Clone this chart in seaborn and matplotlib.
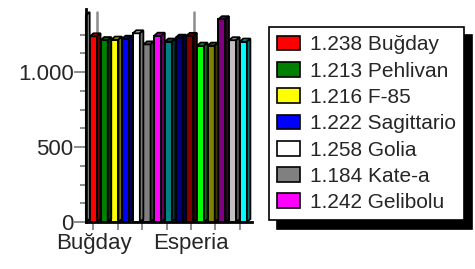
import numpy as np
import pandas as pd
import seaborn as sns
import matplotlib
matplotlib.use('Agg')
import matplotlib.pyplot as plt
import matplotlib.colors as mcolors
from matplotlib.patches import Polygon, Patch

# values (legend gives the first seven exactly)
values = [1238, 1213, 1216, 1222, 1258, 1184, 1242,
          1203, 1229, 1241, 1176, 1176, 1352, 1212, 1203]
bar_colors = ['#FF0000', '#008000', '#FFFF00', '#0000FF', '#FFFFFF', '#808080', '#FF00FF',
              '#008080', '#000080', '#800000', '#00FF00', '#808000', '#800080', '#C0C0C0', '#00FFFF']
legend_labels = ['1.238 Buğday', '1.213 Pehlivan', '1.216 F-85', '1.222 Sagittario',
                 '1.258 Golia', '1.184 Kate-a', '1.242 Gelibolu']
x_labels = ['Buğday', '', '', '', 'Esperia', '', '']
y_labels = ['0', '500', '1.000']

sns.set_style('white')
plt.rcParams['font.family'] = ['Liberation Sans', 'DejaVu Sans']

# fake 3d depth (data units)
dx, dy = 0.33, 20
grey = '#8c8c8c'

fig = plt.figure(figsize=(4.75, 2.69), dpi=100)
ax = fig.add_axes([86 / 475, 47 / 269, 166 / 475, 213 / 269])

df = pd.DataFrame({'bar': [str(i) for i in range(len(values))], 'value': values})
sns.barplot(data=df, x='bar', y='value', hue='bar', palette=bar_colors, legend=False,
            width=0.66, edgecolor='black', linewidth=1.4, saturation=1, ax=ax, zorder=3)

for bar, c in zip(list(ax.patches), bar_colors):
    x0, w, h = bar.get_x(), bar.get_width(), bar.get_height()
    rgb = np.array(mcolors.to_rgb(c))
    ax.add_patch(Polygon([(x0, h), (x0 + dx, h + dy), (x0 + w + dx, h + dy), (x0 + w, h)],
                         closed=True, fc=rgb * 0.75, ec='black', lw=1.3, zorder=3))
    ax.add_patch(Polygon([(x0 + w, 0), (x0 + w, h), (x0 + w + dx, h + dy), (x0 + w + dx, dy)],
                         closed=True, fc=rgb * 0.45, ec='black', lw=1.3, zorder=3))

ax.set_xlim(-0.70, 14.81)
ax.set_ylim(0, 1420)

xticks = np.linspace(0, 13.65, len(x_labels))
ax.set_xticks(xticks)
ax.set_xticklabels(x_labels, fontsize=16)
for t, lab in zip(xticks, x_labels):
    if lab:
        ax.plot([t + dx, t + dx], [dy, 1400], color=grey, lw=1.8, zorder=1)

ax.set_yticks([0, 500, 1000])
ax.set_yticklabels(y_labels, fontsize=16)
ax.set_yticks(np.arange(0, 1251, 125), minor=True)
ax.tick_params(axis='y', which='major', length=9, width=1.4, color=grey, pad=0, left=True)
ax.tick_params(axis='y', which='minor', length=4.5, width=1.4, color=grey, left=True)
ax.tick_params(axis='x', which='major', length=6, width=1.4, color=grey, pad=2, bottom=True)
ax.set_xlabel('')
ax.set_ylabel('')

# left wall
xl = ax.get_xlim()[0]
ax.add_patch(Polygon([(xl, 0), (xl, 1380), (xl + dx, 1380 + dy), (xl + dx, dy)],
                     closed=True, fc='white', ec='black', lw=1.5, zorder=2, clip_on=False))

for s in ['top', 'right']:
    ax.spines[s].set_visible(False)
for s in ['left', 'bottom']:
    ax.spines[s].set_color('black')
    ax.spines[s].set_linewidth(2)

handles = [Patch(facecolor=c, edgecolor='black', lw=1.2) for c in bar_colors[:len(legend_labels)]]
leg = fig.legend(handles, legend_labels, loc='upper left', bbox_to_anchor=(269 / 475, 1 - 27 / 269),
                 frameon=True, fancybox=False, edgecolor='black', framealpha=1, borderaxespad=0,
                 borderpad=0.4, fontsize=15, handlelength=1.1, handleheight=0.72,
                 handletextpad=0.45, labelspacing=0.35,
                 shadow={'ox': 6, 'oy': -6, 'facecolor': 'black', 'edgecolor': 'black', 'alpha': 1})
leg.get_frame().set_linewidth(1.2)

fig.savefig('out.png', dpi=100)
